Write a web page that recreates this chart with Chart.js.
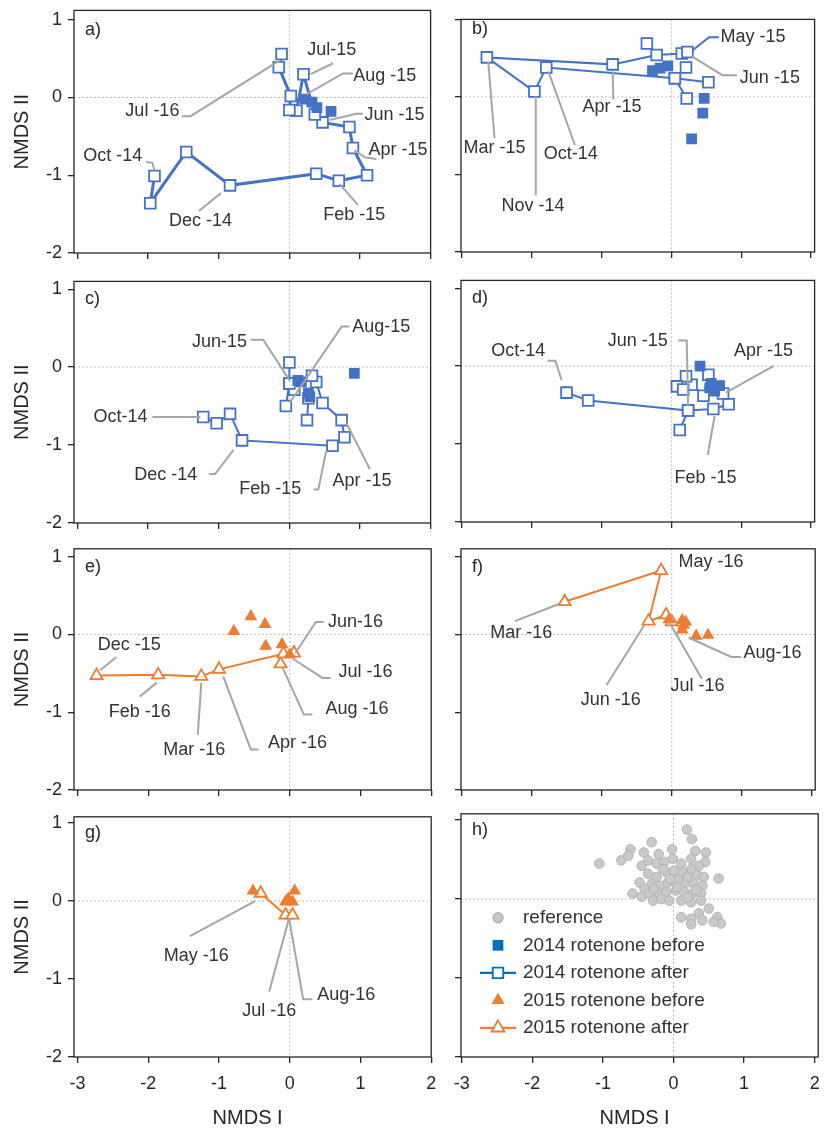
<!DOCTYPE html>
<html>
<head>
<meta charset="utf-8">
<script src="https://cdn.jsdelivr.net/npm/chart.js@4.4.1/dist/chart.umd.min.js"></script>
<style>
body{margin:0;background:#fff;width:824px;height:1135px;position:relative;overflow:hidden}
canvas{position:absolute}
</style>
</head>
<body>
<script>
// axis ticks
const xTicks=[-3,-2,-1,0,1,2];
const yTicks=[-2,-1,0,1];

// a) points
const aBefore=[[0.22,-0.02],[0.32,-0.06],[0.39,-0.13],[0.59,-0.18]];
const aAfter=[[-1.91,-1.01],[-1.97,-1.36],[-1.46,-0.70],[-0.84,-1.13],[0.38,-0.98],[0.70,-1.07],[1.10,-1.00],[0.90,-0.65],[0.85,-0.38],[0.47,-0.32],[0.36,-0.22],[0.20,0.30],[0.10,-0.17],[0.00,-0.16],[0.02,0.02],[-0.15,0.39],[-0.11,0.56]];

// b)
const bBefore=[[-0.27,0.34],[-0.16,0.37],[-0.05,0.40],[0.47,-0.02],[0.45,-0.21],[0.29,-0.54]];
const bAfter=[[0.53,0.19],[0.05,0.24],[-1.79,0.38],[-1.96,0.07],[-2.64,0.51],[-0.84,0.42],[-0.21,0.54],[0.15,0.56],[0.23,0.58]];
const bAfter2=[[0.05,0.24],[0.22,-0.02]];
const bAfterPts=[[-0.35,0.69],[0.21,0.38]];

// c)
const cBefore=[[0.17,-0.19],[0.12,-0.17],[0.29,-0.38],[0.27,-0.33],[0.92,-0.08]];
const cAfter=[[-1.22,-0.64],[-1.03,-0.72],[-0.84,-0.60],[-0.67,-0.94],[0.61,-1.01],[0.78,-0.90],[0.74,-0.68],[0.47,-0.46],[0.38,-0.19],[0.32,-0.11],[0.07,-0.29],[0.00,-0.21],[0.00,0.06]];
const cAfter2=[[0.27,-0.40],[0.25,-0.68]];
const cAfter3=[[0.00,-0.21],[-0.05,-0.50]];

// d)
const dBefore=[[0.41,0.00],[0.57,-0.22],[0.69,-0.25],[0.62,-0.32],[0.55,-0.28]];
const dAfter=[[-1.50,-0.34],[-1.19,-0.44],[0.24,-0.57],[0.60,-0.55],[0.82,-0.49],[0.74,-0.35],[0.53,-0.11],[0.46,-0.38],[0.29,-0.24],[0.21,-0.13],[0.08,-0.26],[0.17,-0.30]];
const dAfter2=[[0.12,-0.82],[0.24,-0.57]];

// e)
const eBefore=[[-0.79,0.04],[-0.55,0.23],[-0.35,0.13],[-0.34,-0.15],[-0.11,-0.13],[0.00,-0.26]];
const eAfter=[[-2.73,-0.53],[-1.86,-0.52],[-1.25,-0.54],[-1.00,-0.45],[-0.09,-0.25],[0.06,-0.24]];
const eAfterPts=[[-0.13,-0.38]];

// f)
const fBefore=[[-0.04,0.19],[0.15,0.18],[0.20,0.16],[0.17,0.12],[0.15,0.06],[0.35,-0.02],[0.52,-0.01]];
const fAfter=[[-1.53,0.42],[-0.15,0.82],[-0.33,0.17],[-0.08,0.25],[0.00,0.16]];

// g)
const gBefore=[[-0.52,0.13],[-0.06,-0.01],[0.04,-0.01],[0.07,0.13],[-0.02,0.03]];
const gAfter=[[-0.41,0.10],[-0.06,-0.18],[0.04,-0.18]];

// h) reference sites
const hReference=[
[-1.05,0.45],[-0.74,0.49],[-0.61,0.63],[-0.64,0.55],[-0.31,0.72],[-0.42,0.59],[-0.21,0.57],[-0.02,0.63],[0.19,0.88],[0.26,0.76],[0.31,0.61],[0.46,0.59],[0.45,0.47],[0.64,0.26],
[-0.45,0.42],[-0.36,0.49],[-0.24,0.45],[-0.13,0.47],[-0.01,0.51],[0.11,0.45],[0.25,0.51],[0.36,0.42],
[-0.36,0.32],[-0.24,0.28],[-0.10,0.34],[0.01,0.36],[0.13,0.34],[0.25,0.38],[0.34,0.30],[0.43,0.28],
[-0.48,0.21],[-0.31,0.19],[-0.20,0.17],[-0.08,0.21],[0.06,0.24],[0.18,0.21],[0.29,0.19],[0.41,0.17],
[-0.58,0.07],[-0.45,0.03],[-0.41,0.13],[-0.34,0.07],[-0.22,0.09],[-0.10,0.09],[0.04,0.11],[0.15,0.09],[0.27,0.07],[0.39,0.07],
[-0.29,-0.02],[-0.17,0.00],[-0.06,-0.02],[0.11,-0.02],[0.25,-0.04],[0.39,-0.02],
[0.50,-0.12],[0.36,-0.18],[0.11,-0.23],[0.25,-0.25],[0.41,-0.27],[0.25,-0.32],[0.62,-0.23],[0.67,-0.31],[0.57,-0.29],
[-0.15,0.38],[0.20,0.28],[0.05,0.15],[-0.05,0.25],[0.32,0.12],[-0.28,0.13],[0.20,0.02]
];

// month labels: text, x, y, leader line
const aLabels=[
["Jul-15",0.60,0.61,[[0.62,0.44],[0.30,0.30]]],
["Aug -15",1.35,0.27,[[0.90,0.31],[0.76,0.31],[0.24,0.04]]],
["Jul -16",-1.94,-0.18,[[-1.52,-0.24],[-1.40,-0.24],[-0.13,0.48]]],
["Jun -15",1.49,-0.23,[[1.04,-0.21],[0.95,-0.21],[0.57,-0.29]]],
["Apr -15",1.54,-0.67,[[1.23,-0.79],[1.07,-0.77],[0.92,-0.68]]],
["Oct -14",-2.50,-0.75,[[-2.03,-0.83],[-1.94,-0.84],[-1.91,-0.94]]],
["Dec -14",-1.26,-1.59,[[-1.28,-1.46],[-0.97,-1.23]]],
["Feb -15",0.92,-1.51,[[0.97,-1.38],[0.71,-1.11]]]
];
const bLabels=[
["May -15",1.17,0.77,[[0.68,0.77],[0.54,0.77],[0.30,0.60]],"#4472C4"],
["Jun -15",1.41,0.25,[[0.94,0.28],[0.73,0.28],[0.30,0.52]]],
["Apr -15",-0.85,-0.13,[[-0.83,-0.03],[-0.84,0.33]]],
["Mar -15",-2.53,-0.66,[[-2.53,-0.53],[-2.62,0.45]]],
["Oct-14",-1.44,-0.74,[[-1.38,-0.62],[-1.76,0.33]]],
["Nov -14",-1.98,-1.41,[[-1.94,-1.27],[-1.94,0.01]]]
];
const cLabels=[
["Jun-15",-0.99,0.32,[[-0.55,0.35],[-0.37,0.35],[0.01,-0.18]]],
["Aug-15",1.30,0.51,[[0.85,0.52],[0.74,0.52],[0.01,-0.45]]],
["Oct-14",-2.39,-0.64,[[-1.94,-0.64],[-1.26,-0.64]]],
["Dec -14",-1.75,-1.39,[[-1.14,-1.37],[-1.05,-1.37],[-0.79,-1.06]]],
["Feb -15",-0.27,-1.57,[[0.34,-1.57],[0.41,-1.57],[0.52,-1.08]]],
["Apr -15",1.03,-1.46,[[1.14,-1.31],[0.81,-0.72]]]
];
const dLabels=[
["Oct-14",-2.19,0.19,[[-1.77,0.07],[-1.66,0.07],[-1.57,-0.18]]],
["Jun -15",-0.48,0.32,[[0.10,0.33],[0.22,0.33],[0.24,-0.51]]],
["Apr -15",1.32,0.19,[[1.46,0.00],[0.78,-0.34]]],
["Feb -15",0.49,-1.43,[[0.52,-1.14],[0.62,-0.64]]]
];
const eLabels=[
["Dec -15",-2.27,-0.14,[[-2.45,-0.29],[-2.68,-0.46]]],
["Jun-16",0.93,0.16,[[0.48,0.16],[0.37,0.16],[0.08,-0.24]]],
["Jul -16",1.07,-0.49,[[0.58,-0.56],[0.46,-0.56],[0.04,-0.31]]],
["Aug -16",0.95,-0.96,[[0.32,-1.03],[0.20,-1.03],[-0.10,-0.43]]],
["Feb -16",-2.12,-1.00,[[-2.12,-0.80],[-1.88,-0.62]]],
["Mar -16",-1.35,-1.48,[[-1.30,-1.29],[-1.25,-0.62]]],
["Apr -16",0.11,-1.40,[[-0.44,-1.48],[-0.55,-1.48],[-0.94,-0.54]]]
];
const fLabels=[
["May -16",0.56,0.93,null],
["Mar -16",-2.15,0.02,[[-2.24,0.17],[-1.61,0.39]]],
["Jun -16",-0.87,-0.85,[[-0.93,-0.65],[-0.39,0.12]]],
["Jul -16",0.37,-0.67,[[0.43,-0.57],[-0.03,0.15]]],
["Aug-16",1.44,-0.24,[[0.99,-0.29],[0.85,-0.29],[0.24,-0.04]]]
];
const gLabels=[
["May -16",-1.32,-0.70,[[-1.41,-0.45],[-0.49,0.00]]],
["Jul -16",-0.29,-1.41,[[-0.29,-1.16],[-0.01,-0.22]]],
["Aug-16",0.80,-1.21,[[0.32,-1.26],[0.19,-1.26],[-0.01,-0.22]]]
];

const legendNames=["reference","2014 rotenone before","2014 rotenone after","2015 rotenone before","2015 rotenone after"];

const FONT='"Liberation Sans", Arial, sans-serif';
const BLUE='#4472C4', ORANGE='#ED7D31', LBLUE='#0070C0';
const TXT='#333333', AXIS='#262626';

const toXY=a=>a.map(([x,y])=>({x,y}));

function before(pts,color,shape){
return {data:toXY(pts),showLine:false,pointStyle:shape,pointRadius:shape==='rect'?7.6:7.4,
backgroundColor:color,borderColor:color,pointBorderWidth:0};
}
function after(pts,color,shape,lw,line){
return {data:toXY(pts),showLine:line!==false,pointStyle:shape,pointRadius:shape==='rect'?7.6:7,
borderColor:color,borderWidth:lw,pointBackgroundColor:'#fff',pointBorderColor:color,pointBorderWidth:1.8,tension:0};
}

function drawSym(ctx,shape,cx,cy,r,fill,stroke){
ctx.beginPath();
if(shape==='rect'){const s=r*Math.SQRT1_2;ctx.rect(cx-s,cy-s,2*s,2*s);}
else if(shape==='triangle'){ctx.moveTo(cx,cy-r);ctx.lineTo(cx+r*0.866,cy+r/2);ctx.lineTo(cx-r*0.866,cy+r/2);ctx.closePath();}
else{ctx.arc(cx,cy,r,0,Math.PI*2);}
if(fill){ctx.fillStyle=fill;ctx.fill();}
if(stroke){ctx.strokeStyle=stroke;ctx.lineWidth=1.8;ctx.stroke();}
}

const panels=[
{letter:'a',col:0,top:5,bottom:253,ymax:1.12,labels:aLabels,sets:[before(aBefore,BLUE,'rect'),after(aAfter,BLUE,'rect',3)]},
{letter:'b',col:1,top:14,bottom:252,ymax:1.0,labels:bLabels,sets:[before(bBefore,BLUE,'rect'),after(bAfter,BLUE,'rect',2),after(bAfter2,BLUE,'rect',2),after(bAfterPts,BLUE,'rect',2,false)]},
{letter:'c',col:0,top:276,bottom:523,ymax:1.1,labels:cLabels,sets:[before(cBefore,BLUE,'rect'),after(cAfter,BLUE,'rect',2),after(cAfter2,BLUE,'rect',2),after(cAfter3,BLUE,'rect',2)]},
{letter:'d',col:1,top:275,bottom:522,ymax:1.1,labels:dLabels,sets:[before(dBefore,BLUE,'rect'),after(dAfter,BLUE,'rect',2),after(dAfter2,BLUE,'rect',2)]},
{letter:'e',col:0,top:544,bottom:790,ymax:1.1,labels:eLabels,sets:[before(eBefore,ORANGE,'triangle'),after(eAfter,ORANGE,'triangle',2),after(eAfterPts,ORANGE,'triangle',2,false)]},
{letter:'f',col:1,top:544,bottom:790,ymax:1.1,labels:fLabels,sets:[before(fBefore,ORANGE,'triangle'),after(fAfter,ORANGE,'triangle',2)]},
{letter:'g',col:0,top:812,bottom:1057,ymax:1.08,labels:gLabels,last:true,sets:[before(gBefore,ORANGE,'triangle'),after(gAfter,ORANGE,'triangle',2)]},
{letter:'h',col:1,top:812,bottom:1057,ymax:1.08,labels:[],last:true,legend:true,
sets:[{data:toXY(hReference),showLine:false,pointStyle:'circle',pointRadius:4.8,backgroundColor:'#C9C9C9',borderColor:'#B3B3B3',pointBorderWidth:1}]}
];

panels.forEach(p=>{
const col=p.col===0?{left:74,right:432.5,cl:0,cw:440,xmin:-3.05,xmax:2.0}:{left:461,right:820,cl:441,cw:383,xmin:-3.01,xmax:2.05};
const ct=p.top-4;
const ch=p.last?1135-ct:p.bottom+12-ct;
const padB=ch-(p.bottom-ct);
const cv=document.createElement('canvas');
cv.width=col.cw;cv.height=ch;
cv.style.left=col.cl+'px';cv.style.top=ct+'px';
document.body.appendChild(cv);

const deco={
id:'deco'+p.letter,
beforeDatasetsDraw(chart){
const {ctx,chartArea:ca,scales:{x,y}}=chart;
ctx.save();
ctx.strokeStyle='#BDBDBD';ctx.lineWidth=1;ctx.setLineDash([2,2]);
const x0=x.getPixelForValue(0),y0=y.getPixelForValue(0);
ctx.beginPath();ctx.moveTo(x0,ca.top);ctx.lineTo(x0,ca.bottom);ctx.moveTo(ca.left,y0);ctx.lineTo(ca.right,y0);ctx.stroke();
ctx.restore();
},
afterDatasetsDraw(chart){
const {ctx,chartArea:ca,scales:{x,y}}=chart;
ctx.save();
// leader lines
ctx.lineWidth=2;
p.labels.forEach(l=>{
if(!l[3])return;
ctx.strokeStyle=l[4]||'#A6A6A6';
ctx.beginPath();
l[3].forEach(([vx,vy],i)=>{const px=x.getPixelForValue(vx),py=y.getPixelForValue(vy);i?ctx.lineTo(px,py):ctx.moveTo(px,py);});
ctx.stroke();
});
ctx.font='18px '+FONT;ctx.fillStyle=TXT;ctx.textAlign='center';ctx.textBaseline='middle';
p.labels.forEach(l=>ctx.fillText(l[0],x.getPixelForValue(l[1]),y.getPixelForValue(l[2])));
// frame
ctx.strokeStyle=AXIS;ctx.lineWidth=1.3;
ctx.strokeRect(ca.left,ca.top,ca.right-ca.left,ca.bottom-ca.top);
// panel letter
ctx.textAlign='left';ctx.fillStyle=AXIS;
ctx.fillText(p.letter+')',ca.left+11,y.getPixelForValue(1)+10);
// axis titles
ctx.font='20px '+FONT;ctx.fillStyle=AXIS;ctx.textAlign='center';
if(p.col===0){
ctx.save();ctx.translate(22,(ca.top+ca.bottom)/2);ctx.rotate(-Math.PI/2);ctx.fillText('NMDS II',0,0);ctx.restore();
}
if(p.last){
ctx.fillText('NMDS I',(ca.left+ca.right)/2-5,1118-ct);
}
// legend
if(p.legend){
ctx.font='19px '+FONT;ctx.fillStyle=TXT;ctx.textAlign='left';
const ix=ca.left+37,tx=ca.left+62;
legendNames.forEach((name,i)=>{
const ly=ca.top+104+i*27.5;
ctx.lineWidth=2;
if(i===0)drawSym(ctx,'circle',ix,ly,4.8,'#C9C9C9','#B3B3B3');
if(i===1)drawSym(ctx,'rect',ix,ly,7.6,LBLUE,null);
if(i===3)drawSym(ctx,'triangle',ix,ly,7.6,ORANGE,null);
if(i===2||i===4){
const c=i===2?LBLUE:ORANGE;
ctx.strokeStyle=c;ctx.lineWidth=2.2;ctx.beginPath();ctx.moveTo(ca.left+19,ly);ctx.lineTo(ca.left+55,ly);ctx.stroke();
drawSym(ctx,i===2?'rect':'triangle',ix,ly,7.4,'#fff',c);
}
ctx.fillStyle=TXT;
ctx.fillText(name,tx,ly);
});
}
ctx.restore();
}
};

new Chart(cv,{
type:'scatter',
data:{datasets:p.sets},
options:{
responsive:false,animation:false,devicePixelRatio:1,events:[],
layout:{padding:{top:4,right:col.cw-col.right,left:0,bottom:0}},
plugins:{legend:{display:false},tooltip:{enabled:false}},
scales:{
x:{type:'linear',min:col.xmin,max:col.xmax,
afterBuildTicks:s=>{s.ticks=xTicks.map(v=>({value:v}));},
afterFit:s=>{s.height=padB;s.paddingLeft=0;s.paddingRight=0;},
ticks:{display:!!p.last,font:{family:FONT,size:18},color:AXIS,padding:10,maxRotation:0},
grid:{drawOnChartArea:false,tickLength:6,color:AXIS,lineWidth:1.3},
border:{display:false}},
y:{type:'linear',min:-2,max:p.ymax,
afterBuildTicks:s=>{s.ticks=yTicks.map(v=>({value:v}));},
afterFit:s=>{s.width=col.left-col.cl;s.paddingTop=0;s.paddingBottom=0;},
ticks:{display:p.col===0,font:{family:FONT,size:18},color:AXIS,padding:6},
grid:{drawOnChartArea:false,tickLength:6,color:AXIS,lineWidth:1.3},
border:{display:false}}
}
},
plugins:[deco]
});
});
</script>
</body>
</html>
